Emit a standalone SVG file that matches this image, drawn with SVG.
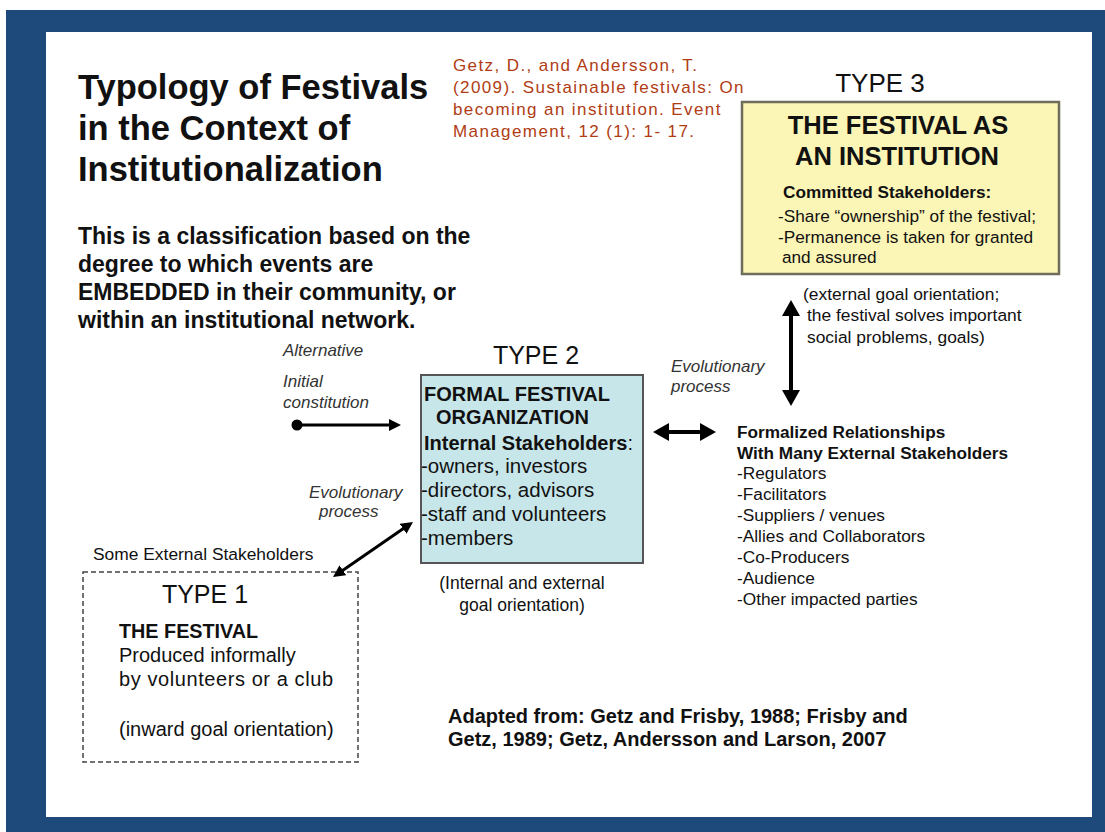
<svg xmlns="http://www.w3.org/2000/svg" width="1105" height="832" viewBox="0 0 1105 832">
<defs>
<style>
text{font-family:"Liberation Sans",Arial,sans-serif;fill:#111}
.b{font-weight:bold}
.it{font-style:italic;fill:#333;font-size:17px}
.cit{fill:#b03c14;font-size:17px;letter-spacing:1.4px}
.conn{stroke:#000;fill:none}
</style>
<marker id="ah" viewBox="0 0 16 18" markerWidth="16" markerHeight="18" markerUnits="userSpaceOnUse" refX="4" refY="9" orient="auto-start-reverse"><path d="M0,0 L16,9 L0,18 z" fill="#000"/></marker>
<marker id="ahs" viewBox="0 0 12 12" markerWidth="12" markerHeight="12" markerUnits="userSpaceOnUse" refX="3" refY="6" orient="auto-start-reverse"><path d="M0,0 L12,6 L0,12 z" fill="#000"/></marker>
</defs>
<rect x="6" y="10" width="1099" height="822" fill="#1d4a7b"/>
<rect x="46" y="32" width="1046" height="785" fill="#fff"/>

<g id="title">
<text class="b" x="78" y="99" font-size="34.5">Typology of Festivals</text>
<text class="b" x="78" y="140" font-size="34.5">in the Context of</text>
<text class="b" x="78" y="181" font-size="34.5">Institutionalization</text>
</g>
<g id="subtitle">
<text class="b" x="78" y="244" font-size="23">This is a classification based on the</text>
<text class="b" x="78" y="272" font-size="23">degree to which events are</text>
<text class="b" x="78" y="300" font-size="23">EMBEDDED in their community, or</text>
<text class="b" x="78" y="328" font-size="23">within an institutional network.</text>
</g>
<g id="citation">
<text class="cit" x="453" y="71">Getz, D., and Andersson, T.</text>
<text class="cit" x="453" y="93">(2009). Sustainable festivals: On</text>
<text class="cit" x="453" y="115">becoming an institution. Event</text>
<text class="cit" x="453" y="137">Management, 12 (1): 1- 17.</text>
</g>

<g id="type3">
<text x="880" y="92" font-size="26" text-anchor="middle">TYPE 3</text>
<rect x="742" y="102" width="317" height="172" fill="#fbf5b6" stroke="#6d6d5a" stroke-width="2.5"/>
<text class="b" x="898" y="134" font-size="25.5" text-anchor="middle">THE FESTIVAL AS</text>
<text class="b" x="897" y="165" font-size="25.5" text-anchor="middle">AN INSTITUTION</text>
<text class="b" x="783" y="198" font-size="17.2">Committed Stakeholders:</text>
<text x="778" y="222" font-size="17" textLength="258" lengthAdjust="spacingAndGlyphs">-Share “ownership” of the festival;</text>
<text x="778" y="243" font-size="17.2">-Permanence is taken for granted</text>
<text x="782" y="263" font-size="17.2">and assured</text>
</g>

<g id="ext-orientation">
<text x="803" y="300" font-size="17.4">(external goal orientation;</text>
<text x="807" y="321" font-size="17.4">the festival solves important</text>
<text x="807" y="343" font-size="17.4">social problems, goals)</text>
</g>

<g id="type2">
<text x="536" y="364" font-size="25" text-anchor="middle">TYPE 2</text>
<rect x="421" y="375" width="222" height="188" fill="#c7e6ea" stroke="#555" stroke-width="2"/>
<text class="b" x="424" y="401" font-size="20">FORMAL FESTIVAL</text>
<text class="b" x="436" y="424" font-size="20">ORGANIZATION</text>
<text x="424" y="450" font-size="20"><tspan class="b">Internal Stakeholders</tspan>:</text>
<text x="421" y="473" font-size="20.5">-owners, investors</text>
<text x="421" y="497" font-size="20.5">-directors, advisors</text>
<text x="421" y="521" font-size="20.5">-staff and volunteers</text>
<text x="421" y="545" font-size="20.5">-members</text>
</g>
<g id="type2-orientation">
<text x="522" y="589" font-size="17.5" text-anchor="middle">(Internal and external</text>
<text x="522" y="611" font-size="17.5" text-anchor="middle">goal orientation)</text>
</g>

<g id="alternative">
<text class="it" x="283" y="356">Alternative</text>
<text class="it" x="283" y="387">Initial</text>
<text class="it" x="283" y="408">constitution</text>
</g>
<g id="evo-left">
<text class="it" x="309" y="498">Evolutionary</text>
<text class="it" x="319" y="517">process</text>
</g>
<g id="evo-right">
<text class="it" x="671" y="372">Evolutionary</text>
<text class="it" x="671" y="392">process</text>
</g>

<g id="external-stakeholders">
<text class="b" x="737" y="438" font-size="17.2">Formalized Relationships</text>
<text class="b" x="737" y="459" font-size="17.2">With Many External Stakeholders</text>
<text x="737" y="479" font-size="17.3">-Regulators</text>
<text x="737" y="500" font-size="17.3">-Facilitators</text>
<text x="737" y="521" font-size="17.3">-Suppliers / venues</text>
<text x="737" y="542" font-size="17.3">-Allies and Collaborators</text>
<text x="737" y="563" font-size="17.3">-Co-Producers</text>
<text x="737" y="584" font-size="17.3">-Audience</text>
<text x="737" y="605" font-size="17.3">-Other impacted parties</text>
</g>

<g id="type1">
<text x="93" y="560" font-size="17.4">Some External Stakeholders</text>
<rect x="83" y="572" width="275" height="190" fill="none" stroke="#444" stroke-width="1.5" stroke-dasharray="5,3"/>
<text x="205" y="603" font-size="25" text-anchor="middle">TYPE 1</text>
<text class="b" x="119" y="638" font-size="19.8">THE FESTIVAL</text>
<text x="119" y="662" font-size="20">Produced informally</text>
<text x="119" y="686" font-size="20" textLength="214" lengthAdjust="spacing">by volunteers or a club</text>
<text x="119" y="736" font-size="20">(inward goal orientation)</text>
</g>

<g id="adapted">
<text class="b" x="448" y="723" font-size="20">Adapted from: Getz and Frisby, 1988; Frisby and</text>
<text class="b" x="448" y="746" font-size="20">Getz, 1989; Getz, Andersson and Larson, 2007</text>
</g>

<g id="connectors">
<circle cx="297" cy="425" r="5.5" fill="#000"/>
<line class="conn" x1="297" y1="425" x2="392" y2="425" stroke-width="3" marker-end="url(#ahs)"/>
<line class="conn" x1="340.4" y1="571.9" x2="405.6" y2="527.1" stroke-width="3" marker-start="url(#ahs)" marker-end="url(#ahs)"/>
<line class="conn" x1="665" y1="432" x2="704" y2="432" stroke-width="4" marker-start="url(#ah)" marker-end="url(#ah)"/>
<line class="conn" x1="791" y1="312" x2="791" y2="394" stroke-width="4" marker-start="url(#ah)" marker-end="url(#ah)"/>
</g>
</svg>
